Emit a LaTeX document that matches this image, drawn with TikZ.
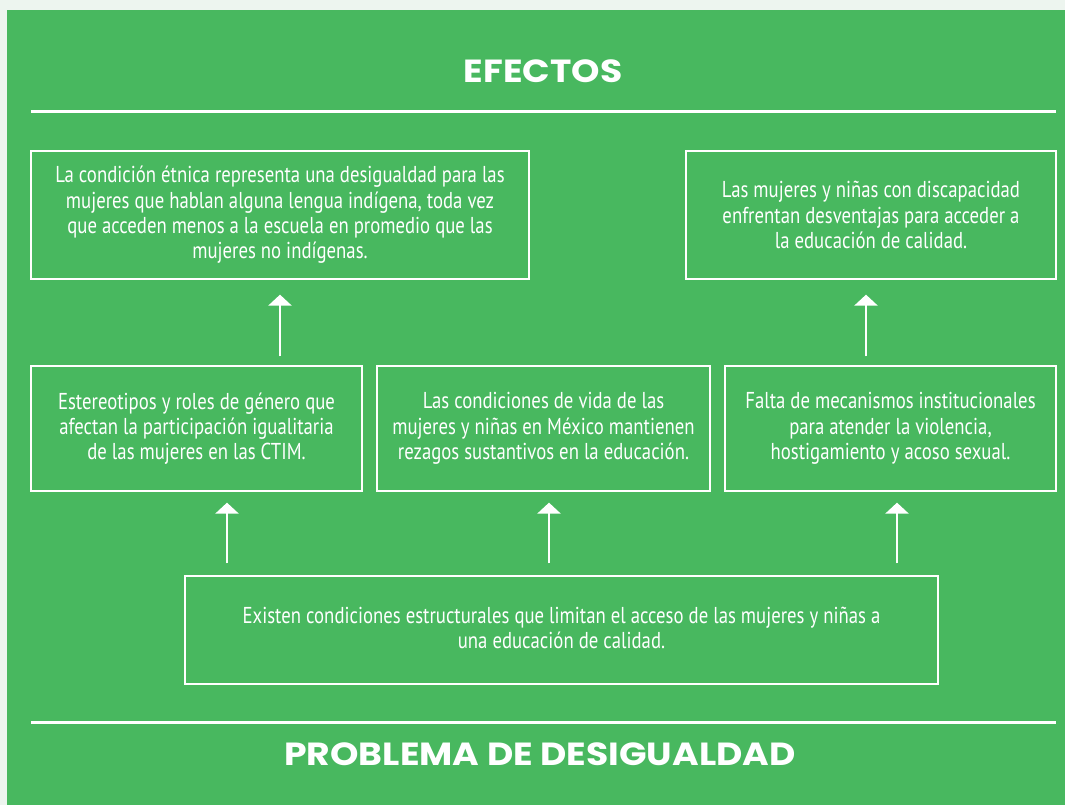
\documentclass[tikz,border=0pt]{standalone}
\usepackage{fontspec}
\newfontfamily\bodyfont[FakeStretch=0.815]{PT Sans}
\newfontfamily\headfont[FakeStretch=1.13]{Poppins}
\usetikzlibrary{arrows.meta}
\definecolor{bggreen}{RGB}{72,184,95}
\definecolor{pagebg}{RGB}{237,245,239}
\tikzset{
  box/.style={draw=white, line width=1.3pt, align=center, text=white,
    font=\bodyfont\fontsize{23}{25.3}\selectfont, inner sep=0pt},
  arr/.style={draw=white, line width=2.6pt,
    -{Triangle[width=23pt,length=11pt]}},
  rule/.style={draw=white, line width=3pt},
  heading/.style={text=white, font=\headfont\bfseries\fontsize{32}{34}\selectfont, inner sep=0pt}
}
\begin{document}
\begin{tikzpicture}[x=1pt,y=-1pt]
\useasboundingbox (0,0) rectangle (1065,805);
\fill[pagebg] (0,0) rectangle (1065,805);
\fill[bggreen] (7,10) rectangle (1065,805);
\coordinate (r1a) at (31,111.5);
\coordinate (r1b) at (1056,111.5);
\coordinate (r2a) at (31,722);
\coordinate (r2b) at (1056,722);
\draw[rule] (r1a) -- (r1b);
\draw[rule] (r2a) -- (r2b);
\node[heading] (ef) at (543,71) {EFECTOS};
\node[heading] (pd) at (540,754) {PROBLEMA DE DESIGUALDAD};
% top row
\node[box, minimum width=498pt, minimum height=128pt] (e1) at (280,215)
 {La condición étnica representa una desigualdad para las\\mujeres que hablan alguna lengua indígena, toda vez\\que acceden menos a la escuela en promedio que las\\mujeres no indígenas.};
\node[box, minimum width=370pt, minimum height=128pt] (e2) at (871,215)
 {Las mujeres y niñas con discapacidad\\enfrentan desventajas para acceder a\\la educación de calidad.};
% middle row
\node[box, minimum width=331pt, minimum height=125pt] (c1) at (196.5,428.5)
 {Estereotipos y roles de género que\\afectan la participación igualitaria\\de las mujeres en las CTIM.};
\node[box, minimum width=333pt, minimum height=125pt] (c2) at (543.5,428.5)
 {Las condiciones de vida de las\\mujeres y niñas en México mantienen\\rezagos sustantivos en la educación.};
\node[box, minimum width=331pt, minimum height=125pt] (c3) at (890.5,428.5)
 {Falta de mecanismos institucionales\\para atender la violencia,\\hostigamiento y acoso sexual.};
% bottom
\node[box, minimum width=753pt, minimum height=108pt] (p) at (561.5,630)
 {Existen condiciones estructurales que limitan el acceso de las mujeres y niñas a\\una educación de calidad.\vphantom{p}\raisebox{6pt}{}};
% arrows
\draw[arr, shorten <=9pt, shorten >=15pt] (c1.north -| 280,0) -- (e1.south -| 280,0);
\draw[arr, shorten <=9pt, shorten >=15pt] (c3.north -| 866,0) -- (e2.south -| 866,0);
\draw[arr, shorten <=12pt, shorten >=11pt] (p.north -| 227,0) -- (c1.south -| 227,0);
\draw[arr, shorten <=12pt, shorten >=11pt] (p.north -| 549,0) -- (c2.south -| 549,0);
\draw[arr, shorten <=12pt, shorten >=11pt] (p.north -| 897,0) -- (c3.south -| 897,0);
\end{tikzpicture}
\end{document}
